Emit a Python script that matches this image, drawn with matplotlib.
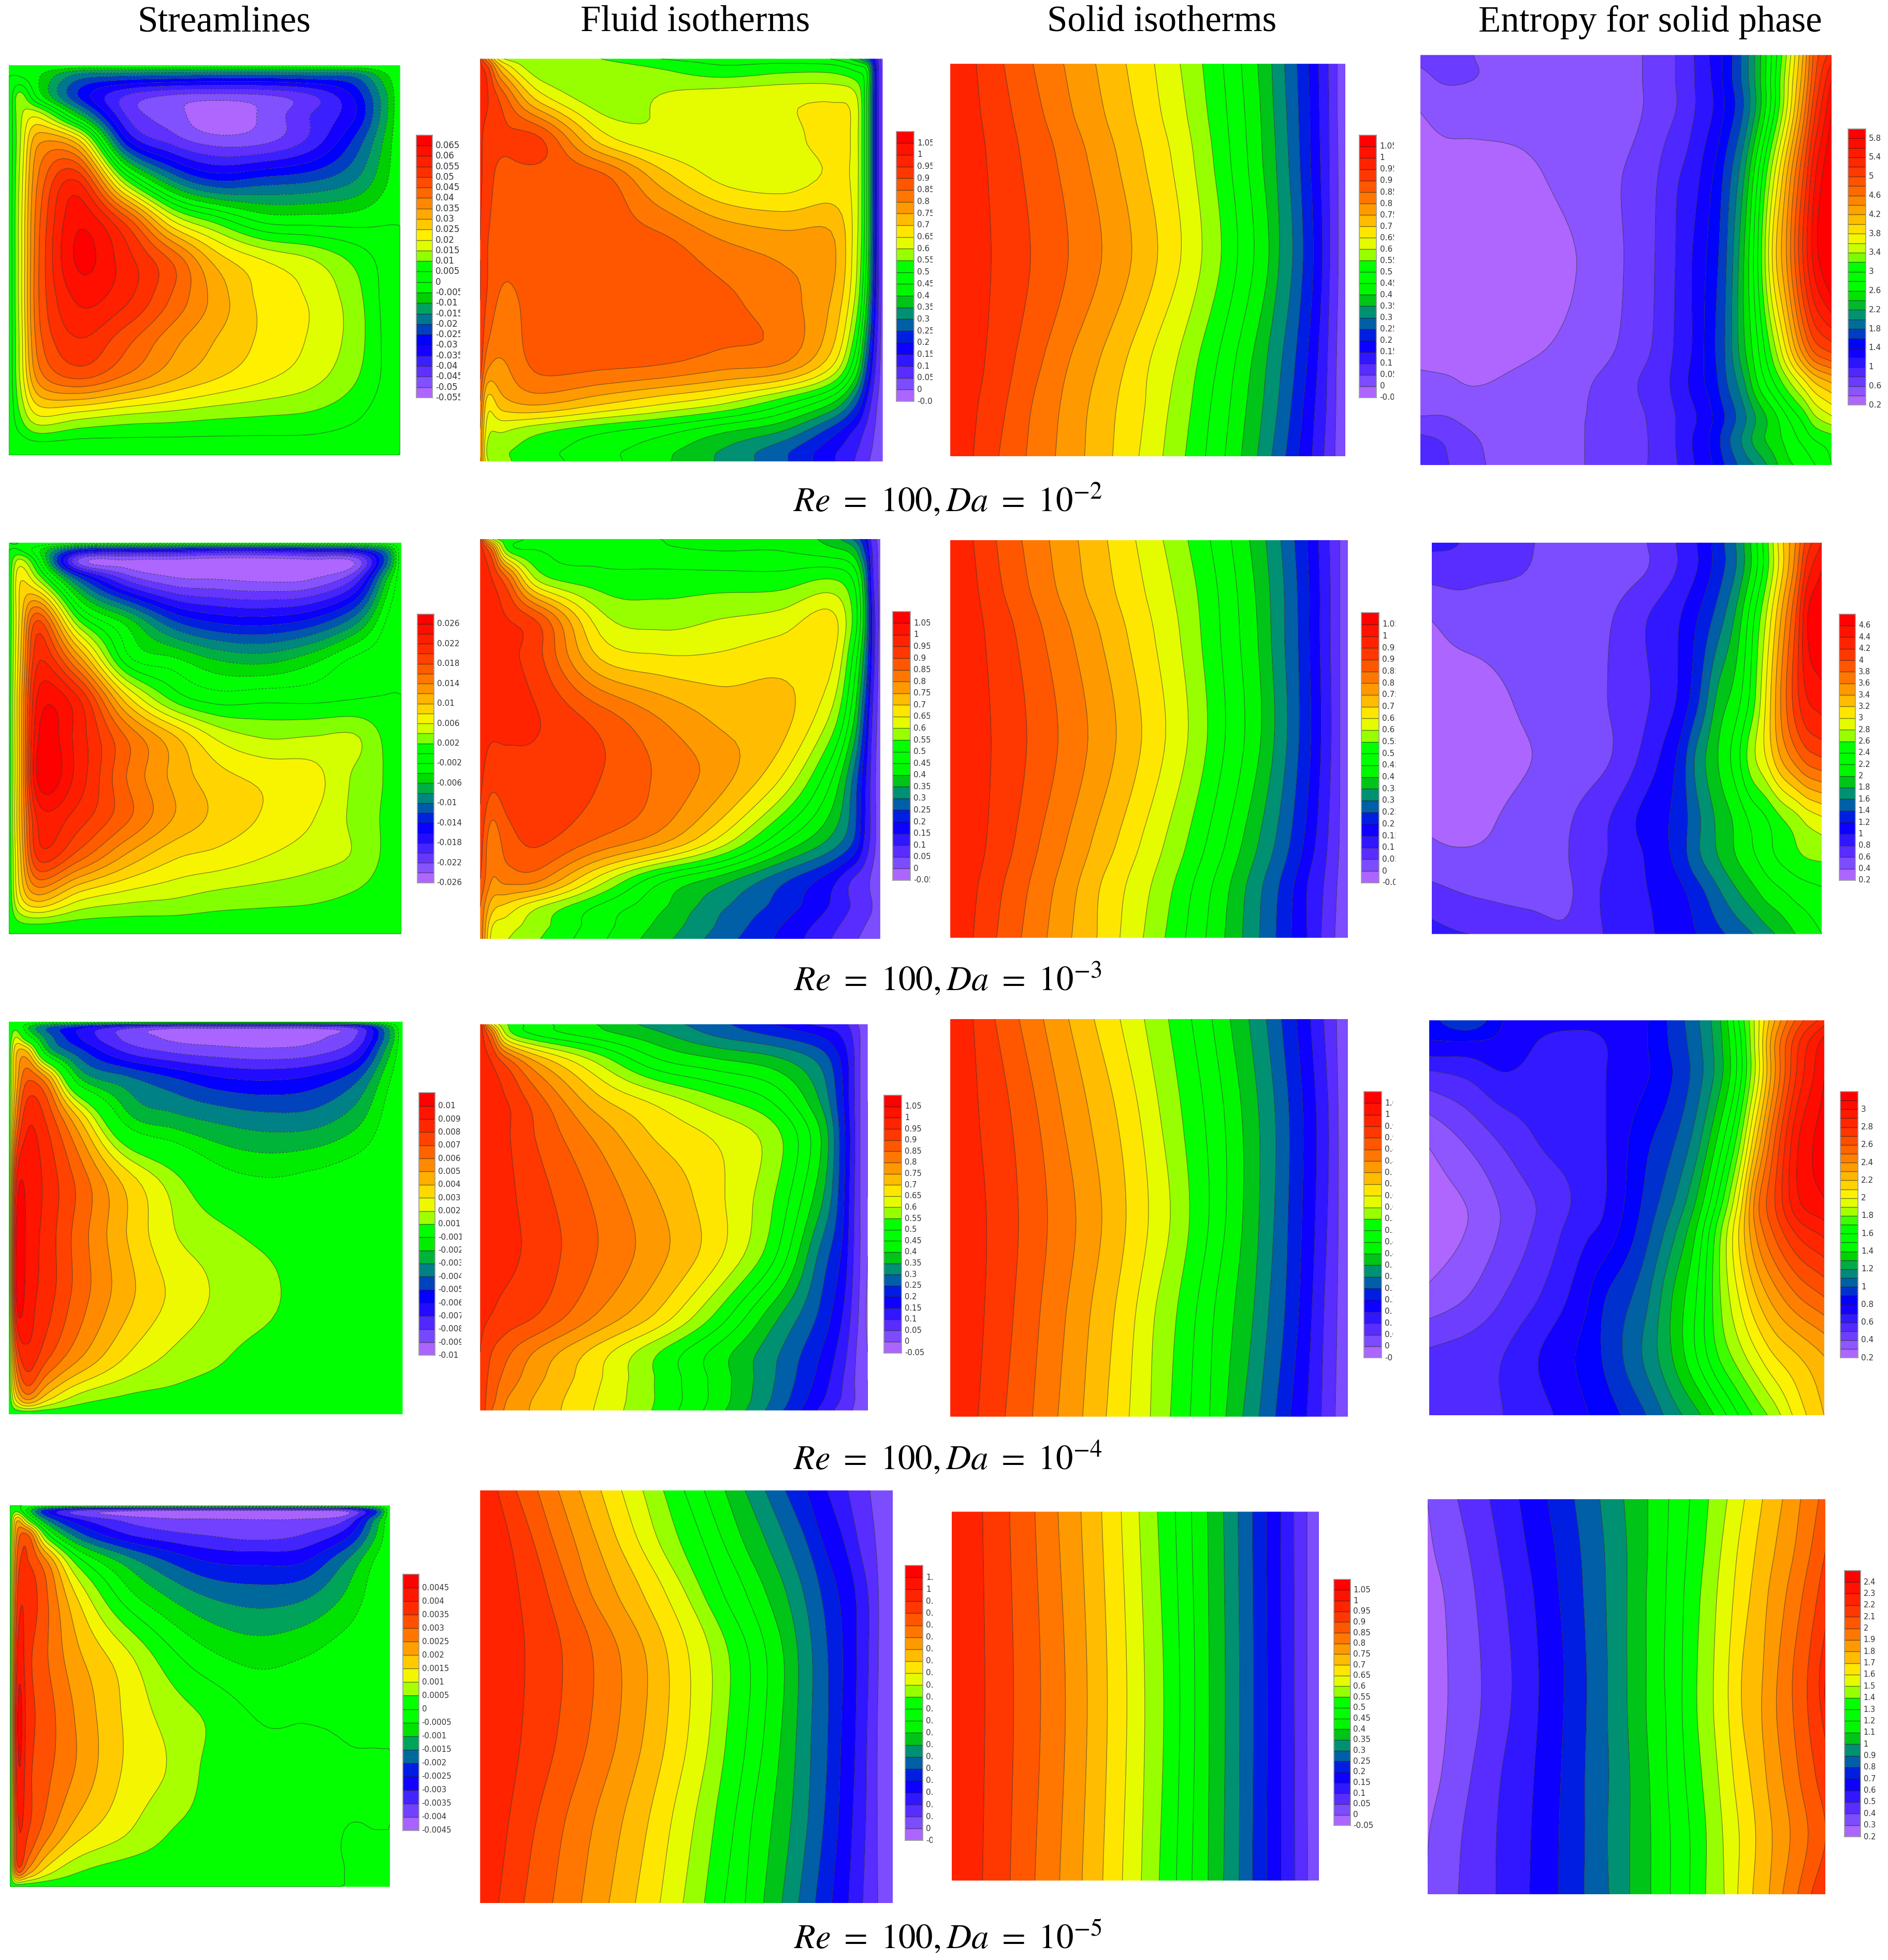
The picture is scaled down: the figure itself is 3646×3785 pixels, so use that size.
import numpy as np
import matplotlib
matplotlib.use('Agg')
import matplotlib.pyplot as plt
from matplotlib.colors import LinearSegmentedColormap
from matplotlib.transforms import Bbox

# ---- titles and captions
col_titles = ['Streamlines', 'Fluid isotherms', 'Solid isotherms', 'Entropy for solid phase']
captions = [r'$\mathit{Re}\ =\ 100,\mathit{Da}\ =\ 10^{-2}$', r'$\mathit{Re}\ =\ 100,\mathit{Da}\ =\ 10^{-3}$',
            r'$\mathit{Re}\ =\ 100,\mathit{Da}\ =\ 10^{-4}$', r'$\mathit{Re}\ =\ 100,\mathit{Da}\ =\ 10^{-5}$']

# ---- colorbar levels
levels_theta = np.round(np.arange(-0.05, 1.101, 0.05), 2)
levels_psi2 = np.round(np.arange(-0.055, 0.0701, 0.005), 3)
levels_psi3 = np.round(np.arange(-0.026, 0.0281, 0.002), 3)
levels_psi4 = np.array([-0.01, -0.009, -0.008, -0.007, -0.006, -0.005, -0.004, -0.003, -0.002, -0.001,
                        0.001, 0.002, 0.003, 0.004, 0.005, 0.006, 0.007, 0.008, 0.009, 0.01, 0.011])
levels_psi5 = np.round(np.arange(-0.0045, 0.00501, 0.0005), 4)
levels_s2 = np.round(np.arange(0.2, 6.01, 0.2), 1)
levels_s3 = np.round(np.arange(0.2, 4.81, 0.2), 1)
levels_s4 = np.round(np.arange(0.2, 3.21, 0.1), 1)
levels_s5 = np.round(np.arange(0.2, 2.51, 0.1), 1)

# ---- streamlines, values
psi_x = [0, .03, .08, .18, .3, .42, .53, .65, .77, .88, .96, 1]
psi2_y = [0, .03, .08, .13, .2, .3, .4, .5, .6, .7, .8, .9, .97, 1]
psi2 = np.array([
    [0, 0, 0, 0, 0, 0, 0, 0, 0, 0, 0, 0],
    [0, 0, -5, -18, -21, -22, -23, -23, -22, -20, -7, 0],
    [0, 12, -3, -25.5, -40.5, -46, -47, -46, -41, -29.5, -12, 0],
    [0, 14, 18, -8, -40, -47.5, -54, -49, -40, -31, -12, 0],
    [0, 15, 35, 28, -26.5, -41, -46.5, -45.5, -38, -24, -9, 0],
    [0, 17, 42, 55, 12, -14, -24, -22, -20, -15, -6, 0],
    [0, 18, 45, 64, 48, 20, 8.5, -1, -2, -2, -.5, 0],
    [0, 18, 46, 66, 57, 44, 28, 20, 15.5, 9, 3, 0],
    [0, 18, 46, 61, 56, 44, 33, 23.5, 19.5, 12.5, 3.5, 0],
    [0, 17, 44, 55, 47, 37, 30, 24, 19.5, 13, 4, 0],
    [0, 16, 38, 46, 39, 31, 25.5, 21, 17, 11, 4, 0],
    [0, 10, 20, 17, 14, 12.5, 11, 10, 9, 6, 2, 0],
    [0, 2, 4, 3, 3, 3, 3, 3, 3, 2, 1, 0],
    [0, 0, 0, 0, 0, 0, 0, 0, 0, 0, 0, 0]]) * 1e-3

psi3_y = [0, .02, .05, .1, .2, .3, .4, .5, .6, .7, .8, .9, .97, 1]
psi3 = np.array([
    [0, 0, 0, 0, 0, 0, 0, 0, 0, 0, 0, 0],
    [0, 0, -4, -14, -16, -16, -17, -17, -16, -15, -9, 0],
    [0, 5, -2, -22.5, -24.5, -25, -25.5, -25.5, -25, -24, -11, 0],
    [0, 8, 4, -10, -19.5, -23, -23.5, -24, -23.5, -19, -6, 0],
    [0, 9, 18, 2, -5, -12, -14.5, -15, -13.5, -9, -2, 0],
    [0, 10, 22, 13, -1, -3.5, -6, -6.7, -4.7, -1.5, -.5, 0],
    [0, 11, 25, 22, 9, 1.5, -.8, -.5, -.5, 0, .1, 0],
    [0, 11, 26.5, 23, 16, 10.5, 5.8, 4, 4.2, 4.3, 1.5, 0],
    [0, 11, 27, 23, 16, 11.5, 8.8, 7.5, 6.8, 3.7, 1.8, 0],
    [0, 11, 23, 21, 16.5, 12, 9.5, 7.8, 6.2, 3.5, 1.6, 0],
    [0, 10, 21, 17, 11.7, 8.4, 7.4, 6.1, 4.9, 3.8, 1.5, 0],
    [0, 8, 12, 7.3, 5.3, 4.4, 3.5, 3, 2.6, 1.8, .7, 0],
    [0, 2, 2.5, 1.5, 1.2, 1.2, 1, .9, .8, .5, .2, 0],
    [0, 0, 0, 0, 0, 0, 0, 0, 0, 0, 0, 0]]) * 1e-3

psi45_x = [0, .02, .05, .1, .18, .3, .42, .53, .65, .77, .88, .96, 1]
psi45_y = [0, .015, .04, .08, .15, .25, .4, .55, .7, .85, .95, 1]
psi4 = np.array([
    [0, 0, 0, 0, 0, 0, 0, 0, 0, 0, 0, 0, 0],
    [0, .5, -2, -4, -5.5, -7.5, -8.5, -8.5, -8.5, -8.5, -7.5, -3, 0],
    [0, 2, -.5, -3.5, -6, -8.3, -9.2, -9.4, -9.5, -9.2, -8, -3.5, 0],
    [0, 4, 4, -1.8, -4.5, -7, -8, -8.4, -8.6, -8.3, -6.8, -2.5, 0],
    [0, 4.5, 7, 5.2, -1.7, -3.6, -4.8, -5.7, -6, -5.6, -4.2, -1.3, 0],
    [0, 6, 8.8, 7.7, 4, -1.5, -2.6, -3.2, -3.6, -3.5, -2.4, -.6, 0],
    [0, 9, 9.7, 8.6, 6.6, 3.5, 1.3, -.4, -.95, -.7, -.3, -.1, 0],
    [0, 10.3, 9.6, 8.5, 6.5, 4, 2.1, 1.4, .7, .2, .05, 0, 0],
    [0, 10.2, 9.4, 8.4, 6.5, 4.3, 2.75, 1.87, 1.35, .3, .05, 0, 0],
    [0, 7, 8.7, 7.2, 5.2, 3, 1.8, 1.2, .5, .1, 0, 0, 0],
    [0, 4, 6, 3.8, 1.9, 1, .7, .4, .1, 0, 0, 0, 0],
    [0, 0, 0, 0, 0, 0, 0, 0, 0, 0, 0, 0, 0]]) * 1e-3

psi5 = np.array([
    [0, 0, 0, 0, 0, 0, 0, 0, 0, 0, 0, 0, 0],
    [0, 4, -8, -25, -36, -40, -42, -42, -42, -42, -40, -22, 0],
    [0, 20, 5, -15, -28, -35.5, -38.5, -39, -39.5, -39, -35, -14, 0],
    [0, 27, 30, 2, -17, -28.5, -33, -35, -36.5, -34.5, -27, -10.5, 0],
    [0, 32, 35, 25, 3, -11, -20, -25, -25.8, -25, -15, -4.3, 0],
    [0, 36, 38, 30, 15, -1, -9.5, -14.5, -16.5, -15, -9, -2, 0],
    [0, 41, 36, 30, 21, 12, 2, -3.8, -6.5, -5, -2, -.5, 0],
    [0, 45, 37, 32, 24, 14.5, 8, 4, -.3, -.3, -.3, -.2, 0],
    [0, 43, 36, 31, 24, 14.5, 9.5, 3.5, 1, .3, .1, .1, 0],
    [0, 38, 35, 27, 17.5, 11, 5.2, 3, 1, .2, 0, 0, 0],
    [0, 34, 25, 14, 6.5, 3, 2, 1, .5, .1, 0, 0, 0],
    [0, 0, 0, 0, 0, 0, 0, 0, 0, 0, 0, 0, 0]]) * 1e-4

# ---- fluid isotherms
fluid_x = [0, .02, .06, .15, .3, .45, .6, .75, .87, .93, .96, .98, 1]
fluid_x23 = [0, .03, .07, .15, .3, .45, .6, .75, .87, .93, .96, .98, 1]
fluid_y = [0, .03, .1, .2, .3, .45, .6, .75, .85, .92, .97, 1]
theta_f2 = np.array([
    [.95, .8, .6, .57, .55, .5, .48, .47, .45, .38, .28, .15, .02],
    [.97, .92, .72, .57, .575, .555, .52, .54, .54, .5, .45, .2, .02],
    [.97, .95, .87, .68, .57, .605, .63, .64, .645, .62, .45, .2, .02],
    [.96, .93, .91, .905, .68, .61, .62, .63, .67, .63, .45, .2, .02],
    [.96, .92, .88, .88, .87, .73, .64, .62, .66, .63, .45, .2, .02],
    [.95, .9, .87, .87, .87, .86, .8, .77, .76, .63, .45, .2, .02],
    [.95, .89, .84, .87, .88, .88, .86, .82, .75, .6, .4, .18, .02],
    [.93, .82, .8, .87, .87, .86, .83, .81, .68, .48, .27, .12, .02],
    [.85, .68, .74, .77, .72, .67, .62, .53, .42, .28, .15, .07, .02],
    [.8, .62, .61, .57, .52, .48, .42, .36, .24, .15, .09, .05, .02],
    [.8, .58, .56, .52, .47, .42, .35, .27, .17, .11, .07, .04, .02],
    [.8, .6, .56, .52, .47, .41, .34, .26, .16, .1, .06, .03, .02]])
theta_f3 = np.array([
    [.95, .6, .52, .49, .47, .45, .43, .44, .38, .3, .2, .08, .03],
    [.98, .85, .55, .5, .48, .46, .45, .45, .42, .38, .25, .1, .03],
    [.97, .95, .85, .58, .52, .52, .52, .52, .55, .5, .35, .12, .03],
    [.97, .96, .95, .88, .62, .58, .6, .62, .67, .55, .38, .15, .03],
    [.96, .96, .96, .91, .7, .66, .66, .68, .67, .5, .33, .14, .02],
    [.96, .96, .96, .95, .88, .8, .74, .72, .6, .42, .24, .1, .02],
    [.96, .92, .93, .93, .9, .84, .77, .65, .47, .3, .17, .08, .01],
    [.93, .82, .88, .91, .845, .775, .64, .47, .35, .26, .15, .08, .01],
    [.9, .8, .82, .81, .63, .47, .38, .27, .18, .1, .07, .04, 0],
    [.85, .72, .68, .6, .49, .41, .31, .23, .15, .095, .07, .05, .01],
    [.85, .65, .62, .565, .47, .385, .29, .2, .12, .07, .05, .03, .01],
    [.85, .63, .6, .55, .46, .37, .275, .19, .105, .06, .04, .02, .01]])
theta_f4 = np.array([
    [1.0, .68, .55, .47, .4, .33, .27, .2, .14, .12, .08, .04, .01],
    [.98, .85, .6, .5, .43, .37, .3, .25, .2, .15, .1, .05, .01],
    [.97, .95, .88, .75, .6, .47, .42, .38, .3, .2, .12, .05, .01],
    [.97, .96, .95, .87, .72, .64, .57, .5, .36, .22, .12, .05, 0],
    [.96, .96, .955, .895, .795, .7, .65, .58, .42, .24, .13, .05, 0],
    [.96, .96, .96, .92, .84, .755, .67, .56, .38, .23, .12, .05, 0],
    [.96, .96, .96, .93, .85, .77, .67, .52, .3, .2, .11, .05, 0],
    [.96, .95, .93, .9, .8, .7, .555, .38, .25, .16, .09, .04, -.01],
    [.95, .9, .86, .79, .68, .56, .44, .32, .21, .13, .07, .03, 0],
    [.94, .88, .83, .76, .66, .55, .44, .31, .19, .11, .06, .03, 0],
    [.93, .87, .8, .74, .65, .55, .44, .3, .17, .1, .06, .03, 0],
    [.95, .85, .79, .735, .645, .545, .43, .285, .15, .08, .05, .02, 0]])

# ---- isotherm positions: x of each level 0.95 ... 0.05 along rows
iso_levels = [.95, .9, .85, .8, .75, .7, .65, .6, .55, .5, .45, .4, .35, .3, .25, .2, .15, .1, .05]
iso_edges = [.99, .0]
sol2_y = [20, 106, 191, 363, 534, 620, 706]
sol2_x = np.array([
    [115, 207, 305, 408, 515, 617, 712, 798, 873, 942, 1003, 1058, 1105, 1148, 1190, 1228, 1262, 1295, 1325],
    [130, 235, 340, 440, 545, 645, 735, 820, 890, 955, 1015, 1068, 1112, 1155, 1195, 1232, 1265, 1297, 1325],
    [150, 265, 385, 490, 590, 680, 770, 845, 910, 968, 1025, 1075, 1120, 1162, 1200, 1235, 1268, 1298, 1327],
    [165, 297, 423, 535, 635, 722, 800, 870, 935, 990, 1045, 1095, 1130, 1175, 1210, 1245, 1275, 1300, 1328],
    [145, 245, 340, 430, 530, 620, 700, 790, 860, 925, 985, 1040, 1090, 1140, 1185, 1225, 1260, 1292, 1322],
    [120, 215, 300, 395, 490, 585, 680, 760, 835, 900, 965, 1020, 1075, 1125, 1170, 1210, 1250, 1288, 1320],
    [105, 190, 282, 380, 478, 572, 660, 740, 815, 883, 948, 1003, 1057, 1105, 1152, 1195, 1240, 1280, 1317]])
sol3_y = [851, 937, 1023, 1196, 1368, 1454, 1541]
sol3_x = np.array([
    [105, 182, 268, 360, 457, 555, 650, 742, 825, 900, 970, 1032, 1087, 1137, 1183, 1225, 1263, 1300, 1335],
    [122, 205, 295, 385, 480, 580, 680, 775, 855, 925, 990, 1050, 1100, 1148, 1192, 1232, 1268, 1303, 1335],
    [145, 250, 345, 440, 535, 625, 715, 800, 870, 935, 1000, 1060, 1105, 1150, 1195, 1232, 1268, 1303, 1335],
    [165, 285, 390, 490, 585, 670, 750, 825, 890, 950, 1015, 1070, 1115, 1158, 1198, 1238, 1272, 1306, 1335],
    [150, 245, 330, 420, 505, 590, 670, 750, 825, 890, 955, 1010, 1065, 1120, 1170, 1215, 1255, 1295, 1333],
    [120, 205, 290, 375, 455, 530, 615, 700, 775, 840, 905, 965, 1020, 1075, 1130, 1180, 1225, 1280, 1325],
    [105, 183, 266, 352, 435, 520, 597, 675, 748, 817, 885, 948, 1008, 1065, 1120, 1172, 1225, 1272, 1318]])
sol4_y = [31, 399, 767, 1135, 1503]
sol4_x = np.array([
    [52, 88, 128, 168, 210, 252, 295, 335, 375, 413, 447, 477, 508, 537, 562, 587, 610, 632, 653],
    [62, 115, 160, 200, 245, 290, 328, 362, 398, 435, 468, 497, 525, 552, 575, 598, 620, 640, 656],
    [74, 127, 175, 222, 265, 305, 342, 378, 410, 442, 470, 498, 525, 550, 573, 596, 618, 638, 656],
    [70, 118, 162, 205, 245, 285, 320, 352, 388, 420, 450, 483, 515, 540, 567, 590, 612, 632, 654],
    [60, 105, 150, 192, 233, 272, 310, 345, 378, 411, 443, 470, 498, 525, 552, 577, 604, 628, 651]])
sol5_y = [91, 765, 1440]
sol5_x = np.array([
    [881, 928, 972, 1012, 1052, 1088, 1122, 1153, 1185, 1216, 1244, 1272, 1300, 1325, 1350, 1374, 1399, 1422, 1445],
    [885, 935, 982, 1025, 1063, 1098, 1132, 1163, 1196, 1224, 1250, 1275, 1303, 1328, 1352, 1376, 1400, 1423, 1445],
    [881, 929, 972, 1015, 1054, 1090, 1124, 1157, 1188, 1218, 1245, 1273, 1300, 1327, 1350, 1375, 1400, 1424, 1446]])
fluid5_y = [13, 201, 389, 615, 916, 1217, 1518]
fluid5_x = np.array([
    [37, 70, 107, 143, 180, 217, 253, 290, 326, 362, 397, 433, 468, 503, 538, 575, 611, 647, 685],
    [60, 100, 135, 172, 210, 247, 283, 318, 355, 395, 430, 465, 505, 540, 575, 603, 640, 665, 695],
    [75, 125, 165, 200, 245, 290, 330, 365, 395, 430, 470, 505, 540, 570, 600, 630, 660, 682, 700],
    [85, 150, 203, 250, 295, 333, 370, 408, 440, 475, 505, 535, 560, 585, 612, 638, 662, 683, 700],
    [78, 140, 195, 245, 290, 330, 368, 405, 435, 470, 500, 530, 557, 583, 612, 635, 660, 680, 698],
    [57, 105, 155, 205, 255, 300, 340, 380, 415, 450, 480, 515, 548, 577, 605, 630, 655, 678, 698],
    [39, 83, 133, 183, 231, 277, 320, 360, 397, 432, 468, 500, 532, 561, 590, 619, 648, 673, 699]])

# ---- entropy
ent2_x = [0, .06, .13, .25, .38, .49, .57, .62, .66, .71, .74, .78, .82, .86, .89, .93, .96, 1]
ent2_y = [0, .06, .14, .3, .5, .7, .8, .88, .94, 1]
ent2 = np.array([
    [.65, .65, .6, .5, .47, .5, .68, .8, .97, 1.25, 1.45, 1.8, 2.3, 2.9, 3.4, 4.2, 4.9, 5.3],
    [.55, .62, .6, .5, .47, .5, .68, .8, .97, 1.22, 1.45, 1.8, 2.3, 2.95, 3.5, 4.3, 5, 5.6],
    [.4, .47, .46, .45, .46, .5, .68, .8, .97, 1.2, 1.42, 1.75, 2.3, 3.0, 3.6, 4.5, 5.2, 5.8],
    [.3, .32, .34, .37, .46, .6, .78, .97, 1.1, 1.4, 1.65, 2.1, 2.8, 3.6, 4.2, 5.0, 5.6, 6.05],
    [.3, .3, .3, .32, .4, .59, .8, 1.0, 1.2, 1.5, 1.75, 2.3, 3.0, 3.9, 4.4, 5.2, 5.7, 6.1],
    [.3, .3, .32, .36, .45, .62, .82, 1.02, 1.2, 1.55, 1.8, 2.3, 2.8, 3.4, 3.9, 4.6, 5.0, 5.2],
    [.47, .44, .39, .45, .55, .72, .9, 1.05, 1.25, 1.5, 1.75, 2.1, 2.6, 3.0, 3.3, 3.7, 4.0, 4.2],
    [.6, .6, .53, .5, .58, .7, .85, 1, 1.15, 1.4, 1.6, 1.9, 2.25, 2.55, 2.8, 3.1, 3.4, 3.6],
    [.85, .78, .62, .5, .58, .72, .83, 1, 1.2, 1.45, 1.7, 2.0, 2.3, 2.5, 2.65, 2.85, 3.0, 3.1],
    [.85, .82, .65, .5, .58, .72, .83, .98, 1.17, 1.4, 1.6, 1.85, 2.05, 2.33, 2.55, 2.65, 2.8, 3.0]])

ent3_x = [41, 120, 210, 360, 500, 630, 750, 860, 930, 1000, 1060, 1110, 1160, 1210, 1260, 1300, 1348]
ent3_y = [11, 42, 100, 189, 256, 323, 368, 412, 457]
ent3 = np.array([
    [.85, .82, .68, .62, .5, .48, .58, .8, 1.0, 1.3, 1.6, 2.0, 2.5, 3.1, 3.6, 4.1, 4.4],
    [.7, .7, .64, .6, .5, .48, .58, .8, 1.0, 1.3, 1.6, 2.0, 2.5, 3.1, 3.7, 4.3, 4.6],
    [.4, .47, .5, .52, .5, .58, .78, .97, 1.2, 1.5, 1.85, 2.3, 2.8, 3.4, 4.0, 4.6, 4.8],
    [.3, .3, .32, .44, .5, .6, .76, 1.0, 1.35, 1.85, 2.1, 2.45, 3.0, 3.6, 4.1, 4.4, 4.5],
    [.3, .3, .32, .39, .48, .58, .85, 1.2, 1.65, 2.0, 2.3, 2.7, 3.0, 3.4, 3.7, 3.9, 4.0],
    [.37, .34, .37, .46, .58, .78, 1.05, 1.25, 1.55, 1.85, 2.05, 2.25, 2.4, 2.6, 2.75, 2.9, 3.0],
    [.45, .43, .43, .47, .6, .8, 1.0, 1.25, 1.55, 1.8, 2.0, 2.15, 2.3, 2.45, 2.55, 2.62, 2.65],
    [.68, .62, .58, .55, .58, .85, .98, 1.12, 1.3, 1.55, 1.75, 1.9, 2.05, 2.15, 2.25, 2.3, 2.35],
    [.87, .82, .78, .7, .63, .82, .95, 1.1, 1.2, 1.35, 1.47, 1.58, 1.72, 1.85, 2.0, 2.1, 2.2]])

ent4_x = [807, 870, 930, 1000, 1060, 1100, 1160, 1210, 1250, 1290, 1320, 1350, 1380, 1420, 1462]
ent4_y = [37, 125, 256, 475, 694, 840, 1059, 1278, 1497]
ent4 = np.array([
    [.85, 1.0, .8, .75, .75, .75, .78, .93, 1.08, 1.3, 1.6, 1.95, 2.3, 2.65, 2.85],
    [.78, .78, .77, .68, .65, .7, .78, .92, 1.06, 1.28, 1.55, 1.95, 2.4, 2.8, 3.05],
    [.55, .6, .68, .65, .65, .7, .78, .9, 1.05, 1.28, 1.55, 1.95, 2.4, 2.85, 3.1],
    [.32, .42, .52, .62, .65, .7, .86, .98, 1.15, 1.45, 1.75, 2.2, 2.6, 3.0, 3.15],
    [.25, .31, .42, .53, .63, .7, .9, 1.08, 1.3, 1.65, 2.0, 2.45, 2.7, 3.0, 3.1],
    [.24, .31, .42, .55, .68, .75, .95, 1.18, 1.42, 1.8, 2.1, 2.4, 2.6, 2.8, 2.9],
    [.33, .4, .5, .62, .76, .9, 1.05, 1.3, 1.5, 1.8, 2.0, 2.2, 2.35, 2.5, 2.6],
    [.52, .55, .6, .72, .82, .92, 1.1, 1.3, 1.5, 1.72, 1.85, 1.98, 2.1, 2.2, 2.3],
    [.55, .58, .6, .68, .78, .85, .98, 1.15, 1.27, 1.45, 1.6, 1.73, 1.85, 2.05, 2.2]])

# x of each level .3 ... 2.3 along rows
ent5_levels = np.round(np.arange(0.3, 2.31, 0.1), 1)
ent5_y = [1098, 1154, 1210, 1288, 1346, 1414, 1481, 1549]
ent5_x = np.array([
    [28, 130, 237, 335, 430, 520, 605, 685, 765, 835, 905, 968, 1030, 1088, 1148, 1215, 1275, 1335, 1395, 1450, 1505],
    [50, 165, 265, 360, 455, 540, 620, 695, 765, 830, 895, 955, 1010, 1065, 1125, 1190, 1255, 1310, 1360, 1420, 1480],
    [85, 190, 290, 385, 470, 550, 625, 695, 760, 825, 885, 940, 995, 1050, 1105, 1165, 1225, 1280, 1330, 1380, 1440],
    [97, 208, 310, 400, 485, 560, 630, 695, 760, 820, 880, 930, 985, 1035, 1080, 1150, 1200, 1250, 1300, 1340, 1365],
    [95, 205, 305, 398, 483, 560, 630, 697, 760, 825, 880, 930, 985, 1035, 1080, 1145, 1195, 1250, 1300, 1345, 1365],
    [75, 175, 275, 385, 475, 555, 635, 705, 770, 830, 890, 945, 1000, 1050, 1105, 1160, 1215, 1270, 1325, 1385, 1440],
    [35, 145, 260, 375, 468, 555, 630, 705, 775, 840, 905, 960, 1015, 1070, 1125, 1180, 1240, 1300, 1360, 1420, 1480],
    [28, 132, 258, 370, 467, 552, 635, 705, 775, 840, 905, 958, 1020, 1065, 1115, 1170, 1215, 1265, 1310, 1360, 1410]])

# palette of the contour bands, low to high
band_palette = ['#AE66FF', '#8050FF', '#6030FF', '#3A20FF', '#1500FF', '#0000FF', '#0040C0', '#007890',
                '#00A060', '#00D000', '#00FF00', '#00FF00', '#00FF00', '#90FF00', '#E0FF00', '#FFF000',
                '#FFC800', '#FFA800', '#FF8800', '#FF6800', '#FF4C00', '#FF3000', '#FF2000', '#FF1000', '#FF0000']
palette_cmap = LinearSegmentedColormap.from_list(
    'bands', [(0.0, band_palette[0])] + [((i + .5) / 25, c) for i, c in enumerate(band_palette)] + [(1.0, band_palette[-1])], N=512)


def band_colors(n, drop=None):
    if drop is None:
        return [palette_cmap((i + .5) / n) for i in range(n)]
    cols = [palette_cmap((i + .5) / (n + 1)) for i in range(n + 1)]
    del cols[drop]
    return cols


def grid_mesh(x, y, z):
    X, Y = np.meshgrid(np.array(x, float), np.array(y, float))
    return X, Y, z


def iso_mesh(x_rows, y, levels, edge_x, edge_z):
    # the contour positions become a curved mesh whose z is the level itself
    nr = x_rows.shape[0]
    X = np.column_stack([np.full(nr, edge_x[0]), x_rows, np.full(nr, edge_x[1])]).astype(float)
    Y = np.repeat(np.array(y, float)[:, None], X.shape[1], axis=1)
    Z = np.tile(np.r_[edge_z[0], levels, edge_z[1]], (nr, 1))
    return X, Y, Z


def smooth_axis(a, axis, m=8):
    # catmull-rom in index space, so thin wall layers do not ring
    a = np.moveaxis(a, axis, 0)
    p = np.concatenate([2 * a[:1] - a[1:2], a, 2 * a[-1:] - a[-2:-1]], axis=0)
    t = (np.arange(m) / m).reshape(-1, *([1] * (a.ndim - 1)))
    out = []
    for i in range(a.shape[0] - 1):
        p0, p1, p2, p3 = p[i], p[i + 1], p[i + 2], p[i + 3]
        out.append(0.5 * (2 * p1 + (p2 - p0) * t + (2 * p0 - 5 * p1 + 4 * p2 - p3) * t ** 2
                          + (3 * p1 - p0 - 3 * p2 + p3) * t ** 3))
    out.append(a[-1:])
    return np.moveaxis(np.concatenate(out, axis=0), 0, axis)


def smooth_mesh(a):
    return smooth_axis(smooth_axis(a, 0), 1)


def draw_field(ax, X, Y, Z, levels, colors, xlim, ylim):
    Xf, Yf, Zf = smooth_mesh(X), smooth_mesh(Y), smooth_mesh(np.asarray(Z, float))
    lo, hi = levels[0], levels[-1]
    Zf = np.clip(Zf, lo + 1e-3 * (levels[1] - lo), hi - 1e-3 * (hi - levels[-2]))
    ax.contourf(Xf, Yf, Zf, levels=levels, colors=colors, antialiased=True)
    ax.contour(Xf, Yf, Zf, levels=levels[1:-1], colors='#202020', linewidths=0.9, alpha=0.55)
    ax.set_xlim(xlim)
    ax.set_ylim(ylim)
    ax.axis('off')


W, H = 3646, 3785
SCALE = 2.4146  # preview pixels to image pixels


def add_axes_box(x0, x1, y0, y1):
    # box given in the coordinates of the preview, y going down
    return fig.add_axes([x0 * SCALE / W, 1 - y1 * SCALE / H, (x1 - x0) * SCALE / W, (y1 - y0) * SCALE / H])


def draw_bar(box, levels, colors, every, clip_x, fsize):
    cax = add_axes_box(*box)
    n = len(colors)
    cax.bar(0.5, np.ones(n), bottom=np.arange(n), width=1, color=colors, linewidth=0)
    cax.hlines(np.arange(1, n), 0, 1, colors='#202020', linewidth=1.0, alpha=0.6)
    cax.set_xlim(0, 1)
    cax.set_ylim(0, n)
    cax.set_xticks([])
    cax.set_yticks([])
    for s in cax.spines.values():
        s.set_color('#999999')
        s.set_linewidth(1.2)
    clip = Bbox([[0, 0], [clip_x * SCALE, H]])
    for i in range(0, len(levels) - 1, every):
        txt = cax.text(1.18, i, '0' if levels[i] == 0 else f'{levels[i]:g}',
                       fontsize=fsize, color='#333333', va='center', ha='left', family='DejaVu Sans', clip_on=True)
        txt.set_clip_box(clip)


fig = plt.figure(figsize=(W / 100, H / 100), dpi=100)
plt.rcParams['mathtext.fontset'] = 'stix'

theta_cols = band_colors(23)

# (box, mesh, levels, colours, xlim, ylim)
panels = [
    ((7, 320, 52, 364), grid_mesh(psi_x, psi2_y, psi2), levels_psi2, band_colors(25), (0, 1), (1, 0)),
    ((384, 706, 47, 369), grid_mesh(fluid_x, fluid_y, theta_f2), levels_theta, theta_cols, (0, 1), (1, 0)),
    ((760, 1076, 51, 365), iso_mesh(sol2_x, sol2_y, iso_levels, (28, 1352), iso_edges), levels_theta, theta_cols, (28, 1352), (706, 20)),
    ((1136, 1465, 44, 372), grid_mesh(ent2_x, ent2_y, ent2), levels_s2, band_colors(29), (0, 1), (1, 0)),

    ((7, 321, 434, 747), grid_mesh(psi_x, psi3_y, psi3), levels_psi3, band_colors(27), (0, 1), (1, 0)),
    ((384, 704, 431, 751), grid_mesh(fluid_x23, fluid_y, theta_f3), levels_theta, theta_cols, (0, 1), (1, 0)),
    ((760, 1078, 432, 750), iso_mesh(sol3_x, sol3_y, iso_levels, (28, 1362), iso_edges), levels_theta, theta_cols, (28, 1362), (1541, 851)),
    ((1145, 1457, 434, 747), grid_mesh(ent3_x, ent3_y, ent3), levels_s3, band_colors(23), (41, 1348), (457, 11)),

    ((7, 322, 817, 1131), grid_mesh(psi45_x, psi45_y, psi4), levels_psi4, band_colors(20, drop=10), (0, 1), (1, 0)),
    ((384, 694, 819, 1128), grid_mesh(fluid_x23, fluid_y, theta_f4), levels_theta, theta_cols, (0, 1), (1, 0)),
    ((760, 1078, 815, 1133), iso_mesh(sol4_x, sol4_y, iso_levels, (14, 672), iso_edges), levels_theta, theta_cols, (14, 672), (1503, 31)),
    ((1143, 1459, 816, 1132), grid_mesh(ent4_x, ent4_y, ent4), levels_s4, band_colors(30), (807, 1462), (1497, 37)),

    ((8, 312, 1204, 1509), grid_mesh(psi45_x, psi45_y, psi5), levels_psi5, band_colors(19), (0, 1), (1, 0)),
    ((384, 714, 1192, 1522), iso_mesh(fluid5_x, fluid5_y, iso_levels, (7, 725), iso_edges), levels_theta, theta_cols, (7, 725), (1518, 13)),
    ((761, 1055, 1209, 1504), iso_mesh(sol5_x, sol5_y, iso_levels, (827, 1466), iso_edges), levels_theta, theta_cols, (827, 1466), (1440, 91)),
    ((1142, 1460, 1199, 1515), iso_mesh(ent5_x, ent5_y, ent5_levels, (-100, 1600), (.2, 2.5)), levels_s5, band_colors(23), (31, 1358), (1549, 1098)),
]

# (box, levels, colours, label step, clip edge, font size)
bars = [
    ((333, 346, 108, 318), levels_psi2, band_colors(25), 1, 368, 12),
    ((717, 731, 105, 321), levels_theta, theta_cols, 1, 746, 11),
    ((1087, 1101, 108, 318), levels_theta, theta_cols, 1, 1115, 11),
    ((1478, 1492, 103, 324), levels_s2, band_colors(29), 2, 1505, 11),

    ((334, 347, 491, 706), levels_psi3, band_colors(27), 2, 369, 11),
    ((714, 728, 489, 704), levels_theta, theta_cols, 1, 744, 11),
    ((1089, 1103, 490, 706), levels_theta, theta_cols, 1, 1116, 11),
    ((1471, 1484, 491, 704), levels_s3, band_colors(23), 1, 1500, 10.5),

    ((335, 348, 874, 1084), levels_psi4, band_colors(20, drop=10), 1, 369, 11),
    ((707, 721, 876, 1082), levels_theta, theta_cols, 1, 740, 10.5),
    ((1091, 1105, 873, 1086), levels_theta, theta_cols, 1, 1114, 11),
    ((1472, 1486, 873, 1086), levels_s4, band_colors(30), 2, 1502, 11),

    ((322, 335, 1259, 1464), levels_psi5, band_colors(19), 1, 362, 10.7),
    ((724, 738, 1252, 1472), levels_theta, theta_cols, 1, 746, 11),
    ((1067, 1080, 1263, 1460), levels_theta, theta_cols, 1, 1098, 11),
    ((1475, 1488, 1256, 1469), levels_s5, band_colors(23), 1, 1505, 10.5),
]

for box, (X, Y, Z), levels, colors, xlim, ylim in panels:
    ax = add_axes_box(*box)
    draw_field(ax, X, Y, Z, levels, colors, xlim, ylim)

for box, levels, colors, every, clip_x, fsize in bars:
    draw_bar(box, levels, colors, every, clip_x, fsize)

title_x = [179, 556, 929, 1320]
for x, title in zip(title_x, col_titles):
    fig.text(x * SCALE / W, 1 - 18 * SCALE / H, title, fontsize=51, family='Liberation Serif', ha='center', va='center')

caption_y = [400, 783, 1166, 1549]
for y, cap in zip(caption_y, captions):
    fig.text(758 * SCALE / W, 1 - y * SCALE / H, cap, fontsize=48, ha='center', va='center')

fig.savefig('out.png', dpi=100)
